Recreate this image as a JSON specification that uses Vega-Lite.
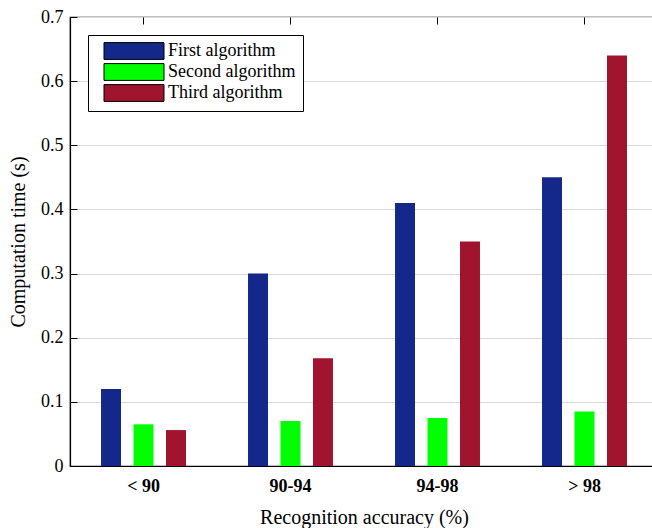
{
  "$schema": "https://vega.github.io/schema/vega-lite/v6.json",
  "width": 588,
  "height": 449,
  "padding": {"left": 70, "top": 17, "right": 0, "bottom": 62},
  "autosize": {"type": "none"},
  "background": "white",
  "config": {
    "font": "Liberation Serif",
    "view": {"stroke": "black", "strokeWidth": 1.2}
  },
  "data": {
    "values": [
      {"acc": "< 90", "alg": "First algorithm", "t": 0.12},
      {"acc": "< 90", "alg": "Second algorithm", "t": 0.065},
      {"acc": "< 90", "alg": "Third algorithm", "t": 0.056},
      {"acc": "90-94", "alg": "First algorithm", "t": 0.30},
      {"acc": "90-94", "alg": "Second algorithm", "t": 0.07},
      {"acc": "90-94", "alg": "Third algorithm", "t": 0.168},
      {"acc": "94-98", "alg": "First algorithm", "t": 0.41},
      {"acc": "94-98", "alg": "Second algorithm", "t": 0.075},
      {"acc": "94-98", "alg": "Third algorithm", "t": 0.35},
      {"acc": "> 98", "alg": "First algorithm", "t": 0.45},
      {"acc": "> 98", "alg": "Second algorithm", "t": 0.085},
      {"acc": "> 98", "alg": "Third algorithm", "t": 0.64}
    ]
  },
  "layer": [
    {
      "mark": {"type": "bar"},
      "encoding": {
        "x": {
          "field": "acc", "type": "nominal", "sort": null,
          "scale": {"paddingInner": 0.422, "paddingOuter": 0.211},
          "axis": {
            "title": "Recognition accuracy (%)", "labelAngle": 0,
            "labelFont": "Liberation Serif", "labelFontSize": 18, "labelFontWeight": "bold", "labelColor": "black",
            "titleFont": "Liberation Serif", "titleFontSize": 20, "titleFontWeight": "normal", "titleColor": "black",
            "domainColor": "black", "domainWidth": 1.2, "tickColor": "black", "tickSize": -7,
            "labelPadding": 18, "titlePadding": 12, "grid": false
          }
        },
        "xOffset": {"field": "alg", "type": "nominal", "scale": {"paddingInner": 0.385, "paddingOuter": 0}},
        "y": {
          "field": "t", "type": "quantitative",
          "scale": {"domain": [0, 0.7], "nice": false},
          "axis": {
            "title": "Computation time (s)", "values": [0, 0.1, 0.2, 0.3, 0.4, 0.5, 0.6, 0.7], "format": ".1~f",
            "labelFont": "Liberation Serif", "labelFontSize": 18, "labelColor": "black",
            "titleFont": "Liberation Serif", "titleFontSize": 20, "titleFontWeight": "normal", "titleColor": "black",
            "domainColor": "black", "domainWidth": 1.2, "tickColor": "black", "tickSize": -7,
            "labelPadding": 14, "titlePadding": 12,
            "grid": true, "gridColor": "#d9d9d9", "gridWidth": 1
          }
        },
        "color": {
          "field": "alg", "type": "nominal",
          "scale": {"domain": ["First algorithm", "Second algorithm", "Third algorithm"], "range": ["#13288a", "#00ff00", "#a0142e"]},
          "legend": {
            "title": null, "orient": "none", "legendX": 18, "legendY": 18,
            "direction": "vertical",
            "symbolType": "M-4,-1.12H4V1.12H-4Z", "symbolSize": 225,
            "symbolStrokeColor": "black", "symbolStrokeWidth": 1, "symbolOpacity": 1,
            "labelFont": "Liberation Serif", "labelFontSize": 18, "labelColor": "black",
            "labelOffset": 25, "rowPadding": -1, "symbolOffset": 30,
            "padding": 7, "strokeColor": "black", "fillColor": "white", "cornerRadius": 0
          }
        }
      }
    },
    {
      "mark": {"type": "tick", "opacity": 0},
      "encoding": {
        "x": {
          "field": "acc", "type": "nominal", "sort": null,
          "axis": {"orient": "top", "labels": false, "title": null, "domain": false, "tickColor": "black", "tickSize": -7, "grid": false}
        }
      }
    }
  ],
  "resolve": {"axis": {"x": "independent"}}
}
